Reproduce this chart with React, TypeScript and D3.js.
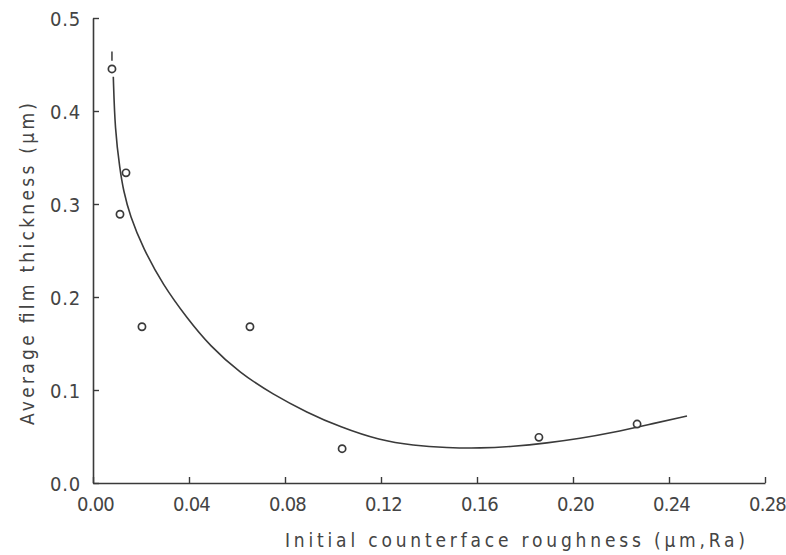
import React, { useEffect, useRef } from 'react';
import * as d3 from 'd3';

// measured points (roughness µm Ra, film thickness µm)
const roughness = [0.0079, 0.01375, 0.01125, 0.0204, 0.0654, 0.1038, 0.1858, 0.2267];
const thickness = [0.4452, 0.3335, 0.289, 0.168, 0.168, 0.0369, 0.0491, 0.0634];

// short bar drawn above the first point
const barX = 0.0079;
const barY = [0.454, 0.464];

// hand-fitted curve
const curveX = [0.00846, 0.00917, 0.01125, 0.01263, 0.01542, 0.02083, 0.02917, 0.03917, 0.04875, 0.06125, 0.075, 0.08917, 0.10292, 0.11958, 0.13333, 0.1475, 0.16125, 0.175, 0.18917, 0.20292, 0.21667, 0.23083, 0.2475];
const curveY = [0.4368, 0.3795, 0.3366, 0.315, 0.2871, 0.2527, 0.2129, 0.1774, 0.1473, 0.1183, 0.0952, 0.0758, 0.0602, 0.0457, 0.0403, 0.0379, 0.0373, 0.0392, 0.043, 0.0478, 0.0543, 0.0624, 0.072];

const xTicks = [0, 0.04, 0.08, 0.12, 0.16, 0.2, 0.24, 0.28];
const xTickLabels = ['0.00', '0.04', '0.08', '0.12', '0.16', '0.20', '0.24', '0.28'];
const yTicks = [0, 0.1, 0.2, 0.3, 0.4, 0.5];
const yTickLabels = ['0.0', '0.1', '0.2', '0.3', '0.4', '0.5'];

export default function App() {
    const ref = useRef<SVGSVGElement>(null);

    useEffect(() => {
        const width = 786;
        const height = 555;
        const ink = '#3a3a3a';
        const font = '"DejaVu Sans Condensed", "DejaVu Sans", sans-serif';

        const svg = d3.select(ref.current)
            .attr('width', width)
            .attr('height', height);
        svg.selectAll('*').remove();

        const x = d3.scaleLinear().domain([0, 0.28]).range([93, 765]);
        const y = d3.scaleLinear().domain([0, 0.5]).range([483, 18]);

        // x axis, ticks pointing inward
        const xAxis = d3.axisBottom(x)
            .tickValues(xTicks)
            .tickSizeInner(-6)
            .tickSizeOuter(0)
            .tickFormat((d, i) => xTickLabels[i]);

        const gx = svg.append('g')
            .attr('transform', `translate(0,${y(0)})`)
            .call(xAxis);
        gx.select('.domain').attr('stroke', ink).attr('stroke-width', 1.6);
        gx.selectAll('.tick line').attr('stroke', ink).attr('stroke-width', 1.4);
        gx.selectAll('.tick text')
            .attr('fill', '#444')
            .attr('font-family', font)
            .attr('font-size', 20)
            .attr('letter-spacing', -0.8)
            .attr('dx', 2)
            .attr('y', 28)
            .attr('dy', 0);

        // y axis
        const yAxis = d3.axisLeft(y)
            .tickValues(yTicks)
            .tickSizeInner(-6)
            .tickSizeOuter(0)
            .tickFormat((d, i) => yTickLabels[i]);

        const gy = svg.append('g')
            .attr('transform', `translate(${x(0)},0)`)
            .call(yAxis);
        gy.select('.domain').attr('stroke', ink).attr('stroke-width', 1.6);
        gy.selectAll('.tick line').attr('stroke', ink).attr('stroke-width', 1.4);
        gy.selectAll('.tick text')
            .attr('fill', '#444')
            .attr('font-family', font)
            .attr('font-size', 20)
            .attr('letter-spacing', 0.8)
            .attr('x', -12)
            .attr('dy', '0.35em');

        // fitted curve
        const line = d3.line<number>()
            .x((d, i) => x(curveX[i]))
            .y(d => y(d))
            .curve(d3.curveBasis);

        svg.append('path')
            .datum(curveY)
            .attr('d', line)
            .attr('fill', 'none')
            .attr('stroke', ink)
            .attr('stroke-width', 1.6);

        // bar above first point
        svg.append('line')
            .attr('x1', x(barX)).attr('x2', x(barX))
            .attr('y1', y(barY[0])).attr('y2', y(barY[1]))
            .attr('stroke', ink)
            .attr('stroke-width', 1.5);

        // open circle markers
        svg.selectAll('circle.pt')
            .data(roughness)
            .enter()
            .append('circle')
            .attr('class', 'pt')
            .attr('cx', d => x(d))
            .attr('cy', (d, i) => y(thickness[i]))
            .attr('r', 3.6)
            .attr('fill', 'white')
            .attr('stroke', ink)
            .attr('stroke-width', 1.7);

        // axis titles
        svg.append('text')
            .attr('transform', 'translate(34,264) rotate(-90)')
            .attr('text-anchor', 'middle')
            .attr('fill', '#444')
            .attr('font-family', font)
            .attr('font-size', 19)
            .attr('textLength', 322)
            .attr('lengthAdjust', 'spacing')
            .text('Average film thickness (µm)');

        svg.append('text')
            .attr('x', 515)
            .attr('y', 547)
            .attr('text-anchor', 'middle')
            .attr('fill', '#444')
            .attr('font-family', font)
            .attr('font-size', 19)
            .attr('textLength', 460)
            .attr('lengthAdjust', 'spacing')
            .text('Initial counterface roughness (µm,Ra)');
    }, []);

    return (
        <div>
            <svg ref={ref} style={{ position: 'absolute', left: 0, top: 0, background: 'white' }} />
        </div>
    );
}
